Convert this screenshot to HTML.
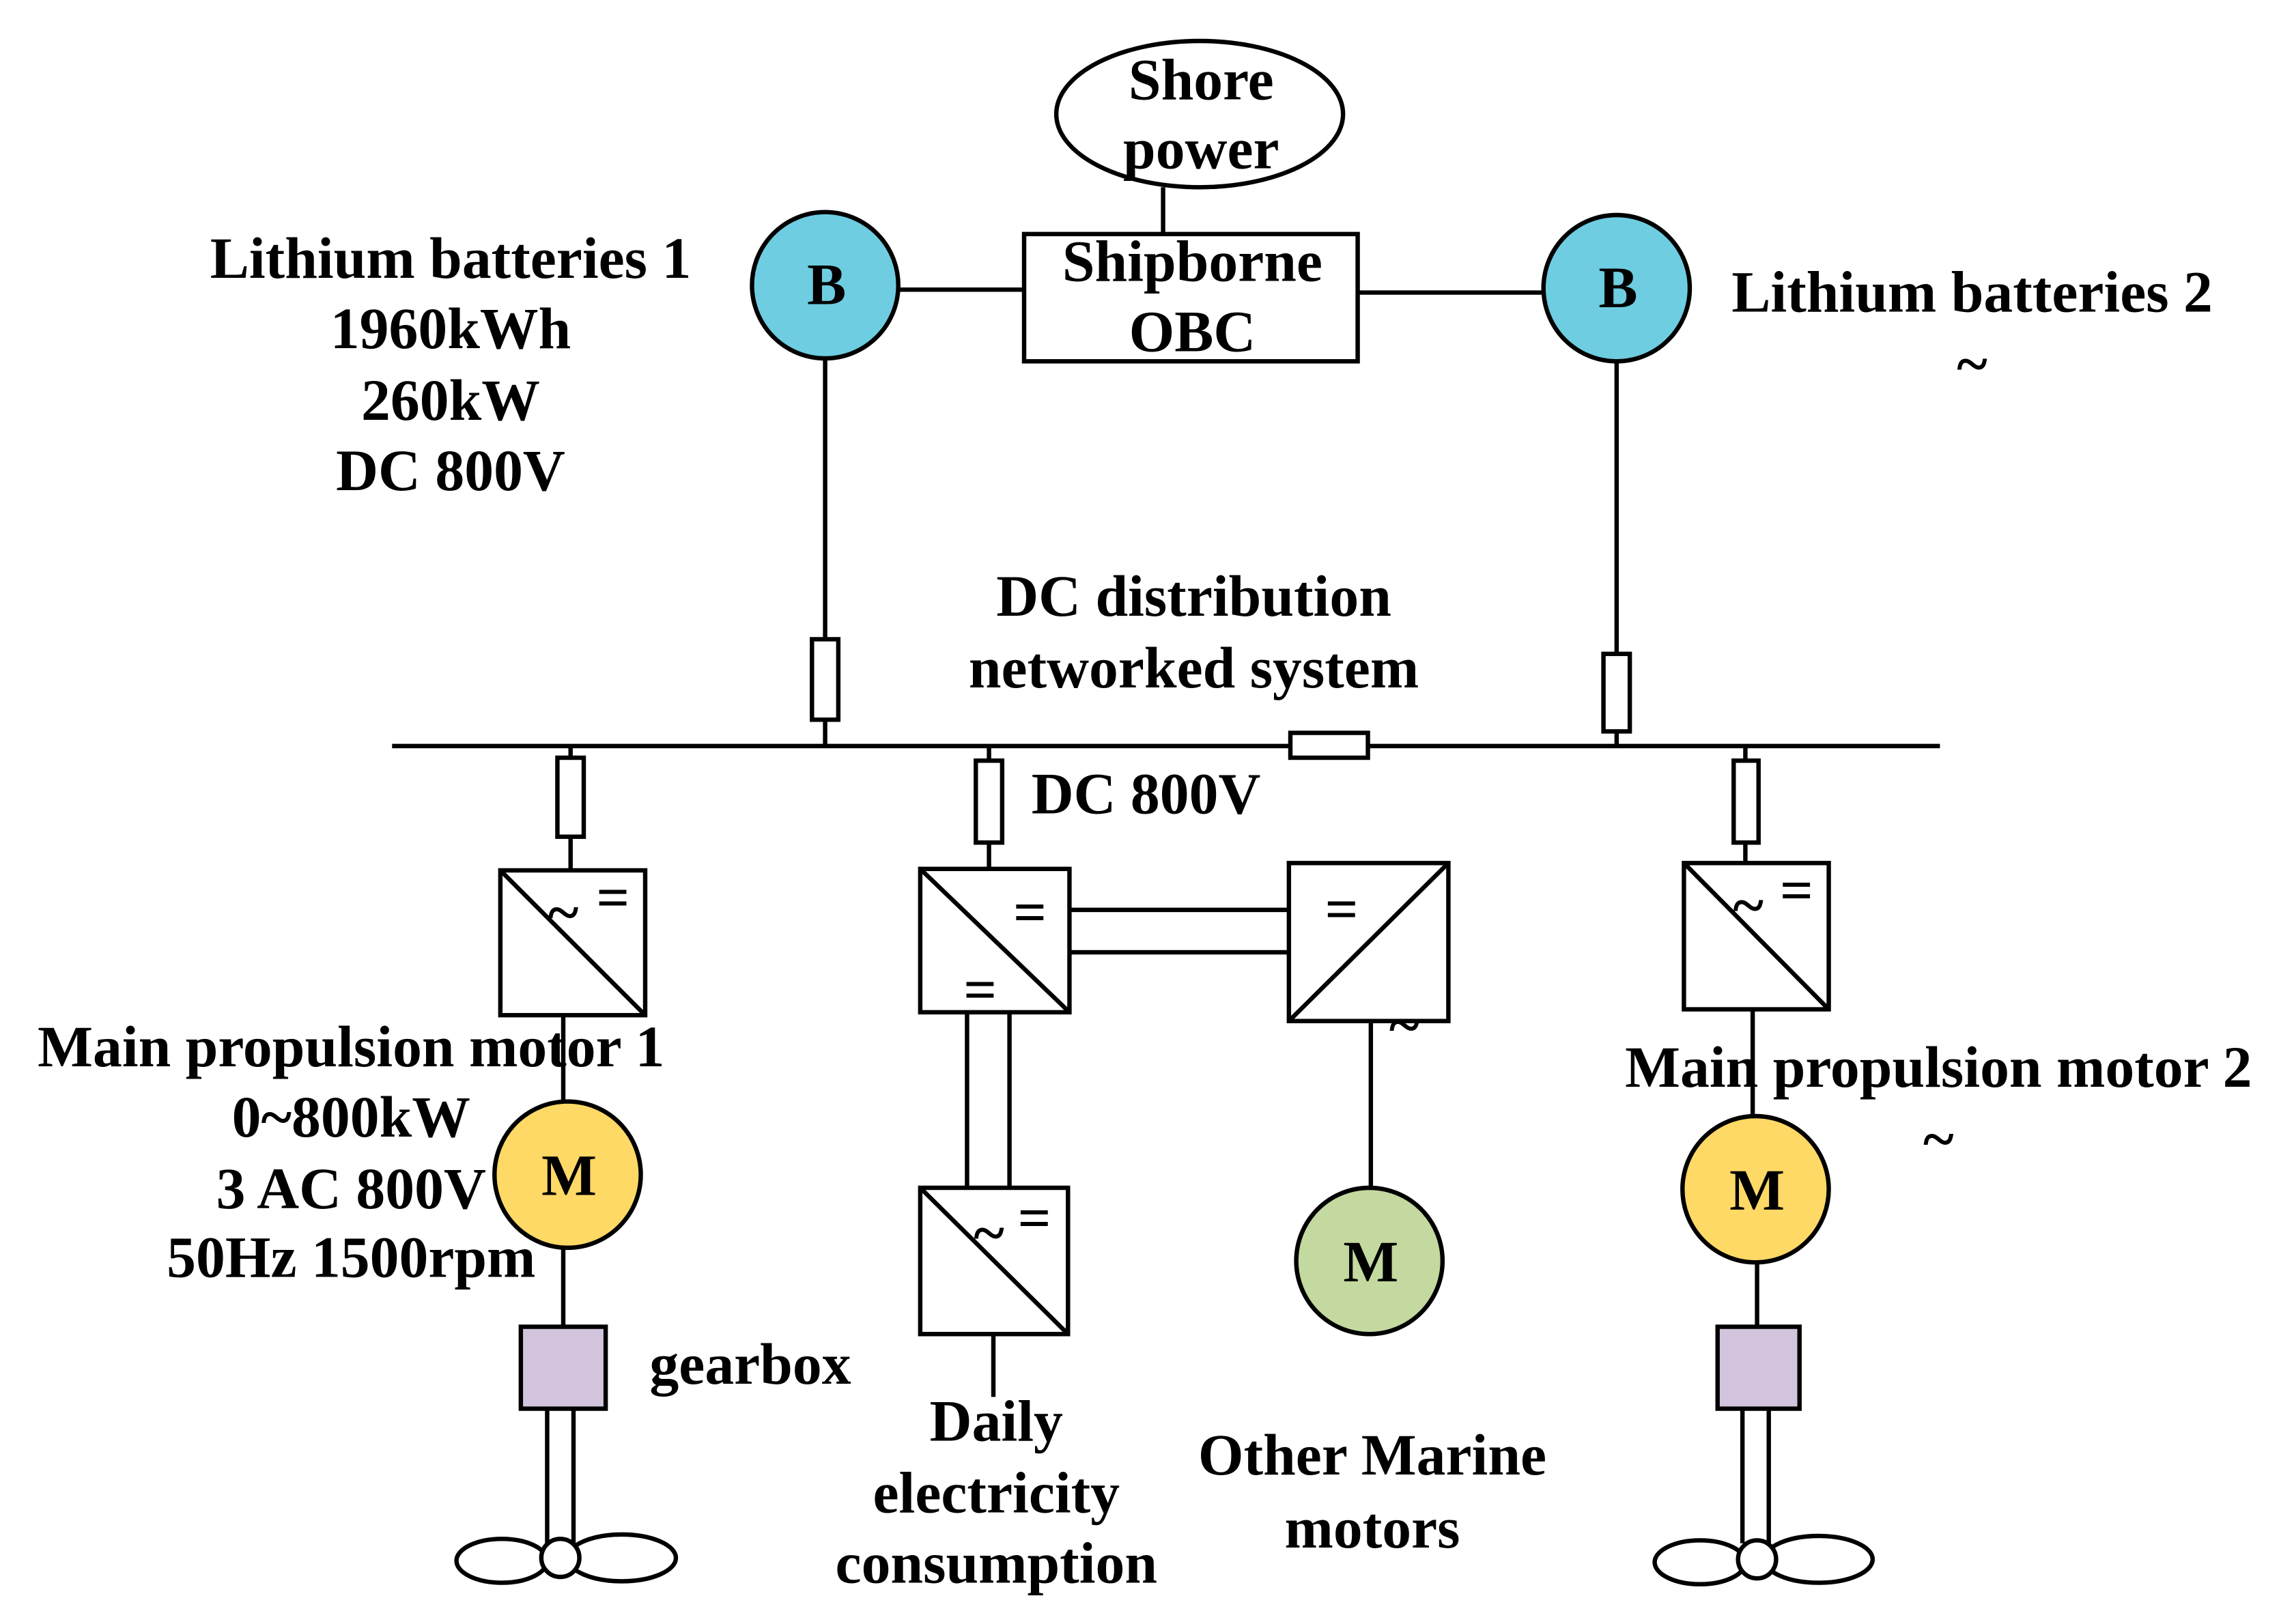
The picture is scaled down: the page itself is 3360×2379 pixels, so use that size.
<!DOCTYPE html>
<html><head><meta charset="utf-8"><style>
html,body{margin:0;padding:0;background:#fff}
svg{display:block}
text{font-family:"Liberation Serif",serif;font-weight:bold;fill:#000}
</style></head><body>
<svg width="3360" height="2379" viewBox="0 0 1568 1110.2" preserveAspectRatio="none" xmlns="http://www.w3.org/2000/svg">
<g stroke="#000" stroke-width="3" fill="none">
<ellipse cx="820" cy="78" rx="98" ry="50" fill="#fff"/>
<line x1="795" y1="128" x2="795" y2="160"/>
<rect x="700" y="160" width="228" height="87" fill="#fff"/>
<line x1="614" y1="198" x2="700" y2="198"/>
<line x1="928" y1="200" x2="1055" y2="200"/>
<circle cx="564" cy="195" r="50" fill="#6ECDE0"/>
<circle cx="1105" cy="197" r="50" fill="#6ECDE0"/>
<line x1="564" y1="245" x2="564" y2="510"/>
<rect x="555" y="437" width="18" height="55" fill="#fff"/>
<line x1="1105" y1="247" x2="1105" y2="510"/>
<rect x="1096" y="447" width="18" height="53" fill="#fff"/>
<line x1="268" y1="510" x2="1326" y2="510"/>
<rect x="882" y="501" width="53" height="17" fill="#fff"/>
<line x1="390" y1="510" x2="390" y2="595"/>
<rect x="381" y="518" width="18" height="54" fill="#fff"/>
<rect x="342" y="595" width="99" height="99" fill="#fff"/>
<line x1="342" y1="595" x2="441" y2="694"/>
<line x1="385" y1="694" x2="385" y2="753"/>
<circle cx="388" cy="803" r="50" fill="#FFD966"/>
<line x1="385" y1="853" x2="385" y2="907"/>
<rect x="356" y="907" width="58" height="56" fill="#D2C4DC"/>
<line x1="374" y1="963" x2="374" y2="1055"/>
<line x1="392" y1="963" x2="392" y2="1055"/>
<ellipse cx="343" cy="1067" rx="31" ry="15" fill="#fff"/>
<ellipse cx="425" cy="1065" rx="37" ry="16" fill="#fff"/>
<circle cx="383" cy="1065" r="13" fill="#fff"/>
<line x1="676" y1="510" x2="676" y2="594"/>
<rect x="667" y="520" width="18" height="56" fill="#fff"/>
<rect x="629" y="594" width="102" height="98" fill="#fff"/>
<line x1="629" y1="594" x2="731" y2="692"/>
<line x1="731" y1="622" x2="881" y2="622"/>
<line x1="731" y1="651" x2="881" y2="651"/>
<rect x="881" y="590" width="109" height="108" fill="#fff"/>
<line x1="881" y1="698" x2="990" y2="590"/>
<line x1="937" y1="698" x2="937" y2="812"/>
<circle cx="936" cy="862" r="50" fill="#C3D9A0"/>
<line x1="661" y1="692" x2="661" y2="812"/>
<line x1="690" y1="692" x2="690" y2="812"/>
<rect x="629" y="812" width="101" height="100" fill="#fff"/>
<line x1="629" y1="812" x2="730" y2="912"/>
<line x1="679" y1="912" x2="679" y2="955"/>
<line x1="1193" y1="510" x2="1193" y2="590"/>
<rect x="1185" y="520" width="17" height="56" fill="#fff"/>
<rect x="1151" y="590" width="99" height="100" fill="#fff"/>
<line x1="1151" y1="590" x2="1250" y2="690"/>
<line x1="1198" y1="690" x2="1198" y2="763"/>
<circle cx="1200" cy="813" r="50" fill="#FFD966"/>
<line x1="1201" y1="863" x2="1201" y2="907"/>
<rect x="1174" y="907" width="56" height="56" fill="#D2C4DC"/>
<line x1="1191" y1="963" x2="1191" y2="1055"/>
<line x1="1209" y1="963" x2="1209" y2="1055"/>
<ellipse cx="1162" cy="1068" rx="31" ry="15" fill="#fff"/>
<ellipse cx="1243" cy="1066" rx="37" ry="16" fill="#fff"/>
<circle cx="1201" cy="1066" r="13" fill="#fff"/>
</g>
<g font-size="40" text-anchor="middle">
<text x="821" y="68">Shore</text>
<text x="821" y="115">power</text>
<text x="815" y="192">Shipborne</text>
<text x="815" y="240">OBC</text>
<text x="565" y="208">B</text>
<text x="1106" y="210">B</text>
<text x="308" y="190">Lithium batteries 1</text>
<text x="308" y="238">1960kWh</text>
<text x="308" y="287">260kW</text>
<text x="308" y="335">DC 800V</text>
<text x="1348" y="213">Lithium batteries 2</text>
<text x="1348" y="262">~</text>
<text x="816" y="421">DC distribution</text>
<text x="816" y="470">networked system</text>
<text x="240" y="729">Main propulsion motor 1</text>
<text x="240" y="777">0~800kW</text>
<text x="240" y="826">3 AC 800V</text>
<text x="240" y="873">50Hz 1500rpm</text>
<text x="1325" y="743">Main propulsion motor 2</text>
<text x="1325" y="792">~</text>
<text x="681" y="985">Daily</text>
<text x="681" y="1034">electricity</text>
<text x="681" y="1082">consumption</text>
<text x="938" y="1008">Other Marine</text>
<text x="938" y="1058">motors</text>
<text x="389" y="817">M</text>
<text x="1201" y="827">M</text>
<text x="937" y="876">M</text>
<text x="385" y="637">~</text>
<text x="419" y="627">=</text>
<text x="704" y="637">=</text>
<text x="670" y="690">=</text>
<text x="917" y="635">=</text>
<text x="960" y="714">~</text>
<text x="676" y="856">~</text>
<text x="707" y="846">=</text>
<text x="1195" y="632">~</text>
<text x="1228" y="622">=</text>
</g>
<g font-size="40">
<text x="705" y="556">DC 800V</text>
<text x="444" y="946">gearbox</text>
</g>
</svg>
</body></html>
